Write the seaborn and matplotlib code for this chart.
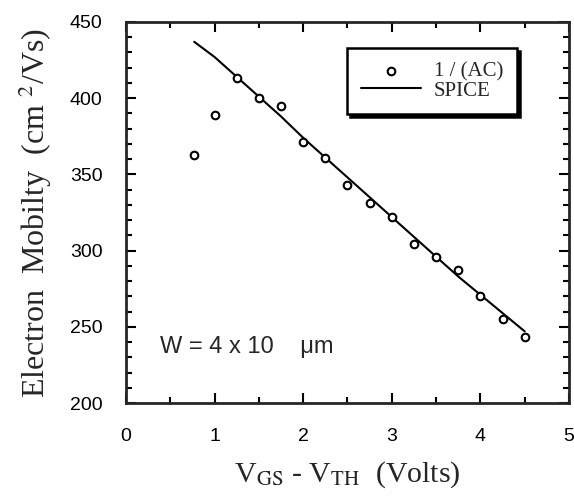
import matplotlib
matplotlib.use('Agg')
import matplotlib.pyplot as plt
import numpy as np
import pandas as pd
import seaborn as sns
from matplotlib.ticker import MultipleLocator

#%%
'''DATA'''
#Measured 1/(AC) points
vgs_meas = [0.77, 1.0, 1.25, 1.5, 1.75, 2.0, 2.25, 2.5, 2.75, 3.0, 3.25, 3.5, 3.75, 4.0, 4.25, 4.5]
mob_meas = [363, 389, 413, 400, 395, 371, 361, 343, 331, 322, 304, 296, 287, 270, 255, 243]

#SPICE curve
vgs_spice = [0.77, 1.0, 1.25, 1.5, 1.75, 2.0, 2.25, 2.5, 2.75, 3.0, 3.25, 3.5, 3.75, 4.0, 4.25, 4.5]
mob_spice = [437, 427, 414, 401, 388, 374, 361, 348, 335, 322, 309, 296, 283, 271, 259, 247]

measData = pd.DataFrame({'Vgs': vgs_meas, 'Mobility': mob_meas})
spiceData = pd.DataFrame({'Vgs': vgs_spice, 'Mobility': mob_spice})

#%%
'''PLOT'''
sns.set_style('ticks')
plt.rcParams['font.family'] = ['Liberation Sans', 'DejaVu Sans']
plt.rcParams['mathtext.fontset'] = 'stix'

fig = plt.figure(figsize = (5.74, 5.03), dpi = 100)
ax = fig.add_axes([0.2195, 0.1988, 0.7718, 0.7575])

sns.scatterplot(data = measData, x = 'Vgs', y = 'Mobility',
                marker = 'o', s = 30, facecolor = 'white',
                edgecolor = 'black', linewidth = 1.5,
                label = '1 / (AC)', ax = ax, zorder = 3)
sns.lineplot(data = spiceData, x = 'Vgs', y = 'Mobility',
             color = 'black', linewidth = 1.5,
             label = 'SPICE', ax = ax)

ax.set_xlim(0, 5)
ax.set_ylim(200, 450)
ax.xaxis.set_major_locator(MultipleLocator(1))
ax.xaxis.set_minor_locator(MultipleLocator(0.5))
ax.yaxis.set_major_locator(MultipleLocator(50))
ax.yaxis.set_minor_locator(MultipleLocator(10))
ax.tick_params(which = 'both', direction = 'in', top = True, right = True,
               width = 1.5, labelsize = 14, colors = 'black')
ax.tick_params(which = 'major', length = 7)
ax.tick_params(which = 'minor', length = 4)
ax.tick_params(axis = 'x', which = 'major', pad = 18)
ax.tick_params(axis = 'y', which = 'major', pad = 17)
for sp in ax.spines.values():
    sp.set_linewidth(2)
    sp.set_visible(True)

serif = ['Liberation Serif', 'DejaVu Serif']
ax.set_xlabel(r'V$_{\mathrm{GS}}$ - V$_{\mathrm{TH}}$  (Volts)', fontsize = 21.5,
              family = serif, labelpad = 10)
ax.set_ylabel(r'Electron  Mobilty  (cm $^{2}$/Vs)', fontsize = 23,
              family = serif, labelpad = 11)

ax.text(0.38, 237, 'W = 4 x 10    \u03bcm', fontsize = 17, ha = 'left', va = 'center')

#Legend
leg = ax.legend(loc = 'upper right', bbox_to_anchor = (0.882, 0.932),
                borderaxespad = 0, fancybox = False, shadow = {'color': 'black', 'alpha': 1},
                edgecolor = 'black', framealpha = 1, handlelength = 2.9,
                prop = {'family': serif, 'size': 15}, labelspacing = 0.0,
                borderpad = 0.65, handletextpad = 0.6)
leg.get_frame().set_linewidth(1.8)

fig.savefig('out.png', dpi = 100)
